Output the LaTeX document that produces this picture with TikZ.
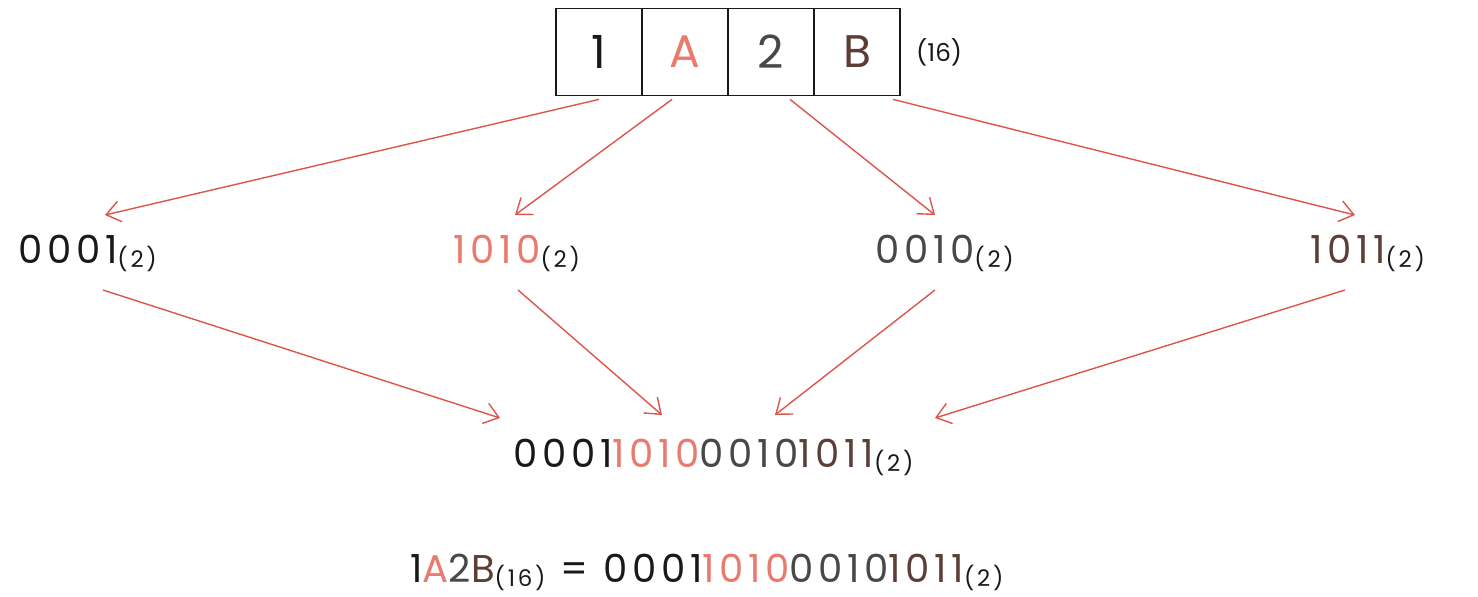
\documentclass[tikz,border=0pt]{standalone}
\usepackage{fontspec}
\setmainfont{Poppins}
\usepackage{xcolor}
\usetikzlibrary{arrows.meta,positioning}
\definecolor{bitblack}{RGB}{25,25,25}
\definecolor{bitsalmon}{RGB}{232,122,110}
\definecolor{bitgray}{RGB}{72,72,72}
\definecolor{bitbrown}{RGB}{92,62,55}
\definecolor{arrowred}{RGB}{222,85,75}
\newcommand{\basesub}[1]{\raisebox{-0.08cm}{\fontsize{13}{15}\selectfont\color{bitblack}#1}}
\tikzset{
  hex cell/.style={draw=bitblack,line width=1pt,minimum width=1.72cm,minimum height=1.74cm,inner sep=0pt,font=\fontsize{26}{30}\selectfont},
  hex label/.style={inner sep=0pt,text=bitblack,font=\fontsize{14}{16}\selectfont},
  bin text/.style={anchor=base west,inner sep=0pt,font=\fontsize{22}{26}\selectfont\addfontfeature{LetterSpace=12}},
  split arrow/.style={draw=arrowred,line width=0.8pt,-{Straight Barb[length=8pt,width=12pt]}}
}
\begin{document}
\begin{tikzpicture}[x=0.02cm,y=-0.02cm]
  \useasboundingbox (0,0) rectangle (1478,596);
  % hex digits
  \foreach \i/\x/\val/\col in {1/599/1/bitblack, 2/685/A/bitsalmon, 3/771/2/bitgray, 4/857/B/bitbrown}{\node[hex cell,text=\col] (c\i) at (\x,52) {\val};}
  \node[hex label,right=0.3cm of c4] (hexbase) {(16)};
  % 4-bit groups
  \foreach \i/\x/\val/\col in {1/18/0001/bitblack, 2/453/1010/bitsalmon, 3/875/0010/bitgray, 4/1310/1011/bitbrown}{\node[bin text,text=\col] (b\i) at (\x,263) {\val\basesub{(2)}};}
  \node[bin text] (joined) at (513,467) {\textcolor{bitblack}{0001}\textcolor{bitsalmon}{1010}\textcolor{bitgray}{0010}\textcolor{bitbrown}{1011}\basesub{(2)}};
  \node[bin text] (result) at (410,582) {\textcolor{bitblack}{1}\textcolor{bitsalmon}{A}\textcolor{bitgray}{2}\textcolor{bitbrown}{B}\basesub{(16)} \textcolor{bitblack}{=} \textcolor{bitblack}{0001}\textcolor{bitsalmon}{1010}\textcolor{bitgray}{0010}\textcolor{bitbrown}{1011}\basesub{(2)}};
  % arrows
  \foreach \i/\dx/\ex in {1/0/1.74, 2/-0.26/1.24, 3/0.38/1.2, 4/0.72/0.9}
    \draw[split arrow] ([xshift=\dx cm,yshift=-0.06cm]c\i.south) -- ([shift={(\ex cm,0.96cm)}]b\i.base west);
  \foreach \i/\sx/\ex/\ey in {1/1.7/-0.26/0.98, 2/1.3/2.98/1.04, 3/1.2/5.24/1.04, 4/0.7/8.44/0.98}
    \draw[split arrow] ([shift={(\sx cm,-0.54cm)}]b\i.base west) -- ([shift={(\ex cm,\ey cm)}]joined.base west);
\end{tikzpicture}
\end{document}
